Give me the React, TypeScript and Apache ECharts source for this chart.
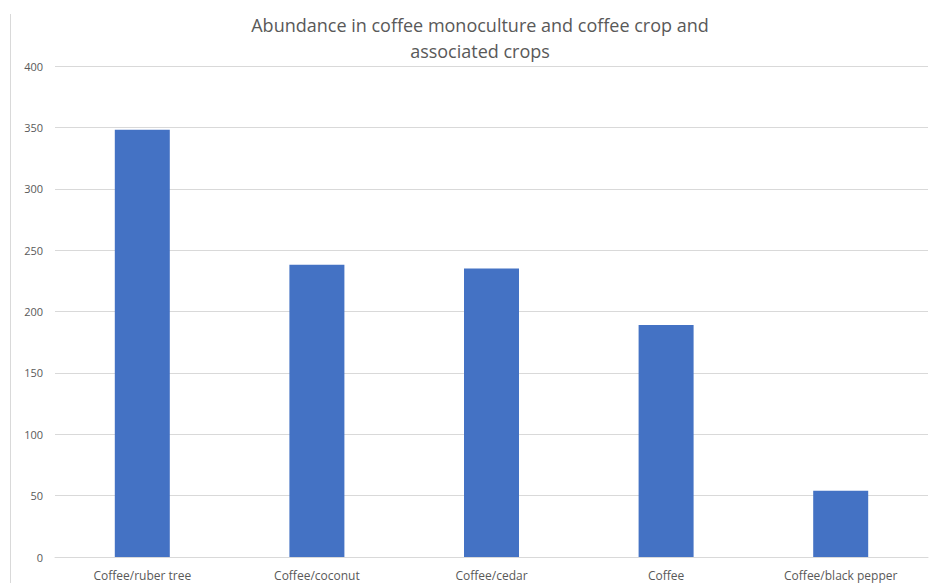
import React, { useEffect, useRef } from "react";
import * as echarts from "echarts";

const categories = ["Coffee/ruber tree", "Coffee/coconut", "Coffee/cedar", "Coffee", "Coffee/black pepper"];
const abundance = [348, 238, 235, 189, 54];
const titleText = "Abundance in coffee monoculture and coffee crop and\nassociated crops";

export default function App() {
  const ref = useRef<HTMLDivElement>(null);
  useEffect(() => {
    if (!ref.current) return;
    const chart = echarts.init(ref.current, null, { renderer: "svg" });
    chart.setOption({
      animation: false,
      backgroundColor: "#ffffff",
      title: {
        text: titleText,
        left: 475,
        top: 7,
        textAlign: "center",
        textStyle: {
          fontFamily: "Open Sans",
          fontSize: 18,
          fontWeight: "normal",
          color: "#595959",
          lineHeight: 26,
        },
      },
      graphic: [
        {
          type: "line",
          shape: { x1: 10.5, y1: 14, x2: 10.5, y2: 583 },
          style: { stroke: "#d9d9d9", lineWidth: 1 },
          silent: true,
        },
      ],
      grid: { left: 55, right: 11, top: 66, bottom: 26, containLabel: false },
      xAxis: {
        type: "category",
        data: categories,
        axisLine: { show: true, lineStyle: { color: "#d9d9d9" } },
        axisTick: { show: false },
        axisLabel: {
          color: "#595959",
          fontFamily: "Open Sans",
          fontSize: 12,
          margin: 12,
          interval: 0,
        },
      },
      yAxis: {
        type: "value",
        min: 0,
        max: 400,
        interval: 50,
        axisLine: { show: false },
        axisTick: { show: false },
        splitLine: { lineStyle: { color: "#d9d9d9" } },
        axisLabel: {
          color: "#595959",
          fontFamily: "Open Sans",
          fontSize: 11,
          margin: 12,
        },
      },
      series: [
        {
          type: "bar",
          data: abundance,
          barWidth: "31.5%",
          itemStyle: { color: "#4472C4" },
        },
      ],
    });
    return () => chart.dispose();
  }, []);
  return <div ref={ref} style={{ width: 939, height: 583, position: "absolute", left: 0, top: 0 }} />;
}
